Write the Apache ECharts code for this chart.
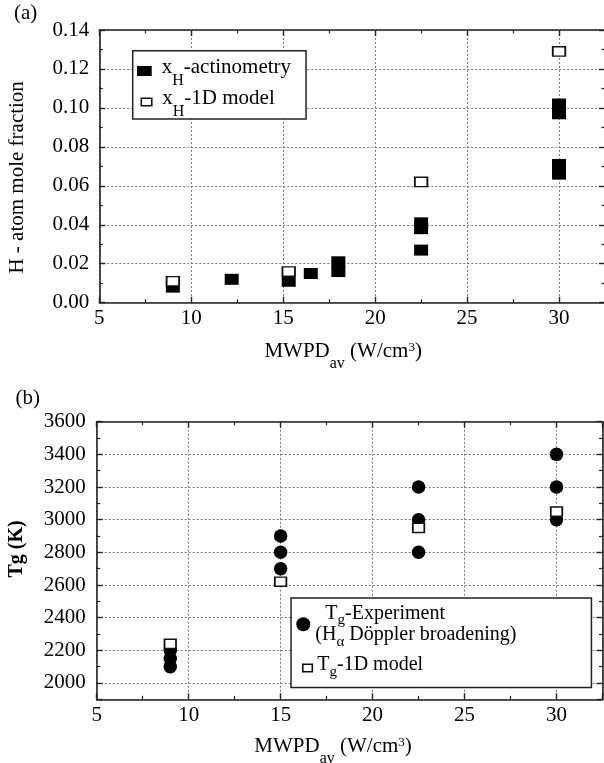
<!DOCTYPE html>
<html>
<head>
<meta charset="utf-8">
<script src="https://cdn.jsdelivr.net/npm/echarts@6/dist/echarts.min.js"></script>
<style>
  html, body { margin: 0; padding: 0; background: #fff; }
  #chart { width: 604px; height: 763px; }
</style>
</head>
<body>
<div id="chart"></div>
<script>
// Panel (a): H-atom mole fraction against average microwave power density
const mwpdActino = [9, 12.2, 15.3, 16.5, 18, 18, 22.5, 22.5, 22.5, 30, 30, 30, 30];
const xhActino   = [0.008, 0.012, 0.011, 0.015, 0.021, 0.016, 0.041, 0.038, 0.027, 0.102, 0.097, 0.071, 0.066];
const mwpdModelA = [9, 15.3, 22.5, 30];
const xhModel    = [0.011, 0.016, 0.062, 0.129];

// Panel (b): gas temperature against average microwave power density
const mwpdExp    = [9, 9, 9, 15, 15, 15, 22.5, 22.5, 22.5, 30, 30, 30];
const tgExp      = [2100, 2150, 2200, 2700, 2800, 2900, 2800, 3000, 3200, 3000, 3200, 3400];
const mwpdModelB = [9, 15, 22.5, 30];
const tgModel    = [2240, 2620, 2950, 3050];

// Tick labels
const xTickLabels  = [5, 10, 15, 20, 25, 30];
const yTickLabelsA = [0, 0.02, 0.04, 0.06, 0.08, 0.10, 0.12, 0.14];
const yTickLabelsB = [2000, 2200, 2400, 2600, 2800, 3000, 3200, 3400, 3600];

const F = '"Liberation Serif", "Times New Roman", serif';
const INK = '#222';

const zip = (xs, ys) => xs.map((x, i) => [x, ys[i]]);
const near = (list, v) => list.some(t => Math.abs(t - v) < 1e-9);

// Rich styles for the x-axis titles (subscript "av", superscript "3")
const xTitleRich = {
  n: { fontFamily: F, fontSize: 21, lineHeight: 24, color: '#000' },
  s: { fontFamily: F, fontSize: 16, lineHeight: 24, padding: [24, 0, 0, 0], color: '#000' },
  p: { fontFamily: F, fontSize: 13, lineHeight: 24, padding: [0, 0, 9, 0], color: '#000' }
};
const xTitle = '{n|MWPD}{s|av}{n| (W/cm}{p|3}{n|)}';

function frameAxis(base, extra) {
  return Object.assign({
    type: 'value',
    axisLine: { show: true, onZero: false, lineStyle: { color: INK, width: 1.6 } },
    axisTick: { show: true, inside: true, length: 6, lineStyle: { color: INK, width: 1.4 } },
    minorTick: { show: true, splitNumber: 2, length: 3.5, lineStyle: { color: INK, width: 1.2 } },
    axisLabel: { show: false },
    splitLine: { show: false },
    minorSplitLine: { show: false }
  }, base, extra || {});
}

const gridLine = { show: true, lineStyle: { color: '#7a7a7a', width: 1, type: [2, 2] } };
const tickFont = { fontFamily: F, fontSize: 21, color: '#000' };

const xScale = { min: 5, max: 32.5, interval: 5 };
const yScaleA = { min: 0, max: 0.14, interval: 0.02 };
const yScaleB = { min: 1900, max: 3600, splitNumber: 8 };

const legendLabels = {
  'xH-actinometry': '{a|x}{s|H}{n|-actinometry}',
  'xH-1D model': '{a|x}{s|H}{n|-1D model}',
  'Tg-Experiment': '{i|T}{s|g}{n|-Experiment}\n{n|(H}{s|α}{n| Döppler broadening)}',
  'Tg-1D model': '{n|T}{s|g}{n|-1D model}'
};

const richA = {
  a: { fontFamily: F, fontSize: 21, lineHeight: 24, padding: [0, 0, 7, 5], color: '#000' },
  n: { fontFamily: F, fontSize: 21, lineHeight: 24, padding: [0, 0, 7, 0], color: '#000' },
  s: { fontFamily: F, fontSize: 16, lineHeight: 24, padding: [20, 0, 0, 0], color: '#000' }
};
const richA2 = Object.assign({}, richA, {
  a: { fontFamily: F, fontSize: 21, lineHeight: 24, padding: [0, 0, 7, 5.5], color: '#000' }
});
const richB1 = {
  i: { fontFamily: F, fontSize: 20, lineHeight: 21.7, padding: [0, 0, 0, 10], color: '#000' },
  n: { fontFamily: F, fontSize: 20, lineHeight: 21.7, color: '#000' },
  s: { fontFamily: F, fontSize: 15, lineHeight: 21.7, padding: [14, 0, 0, 0], color: '#000' }
};
const richB2 = {
  n: { fontFamily: F, fontSize: 20, lineHeight: 21.7, padding: [0, 0, 5.5, 0], color: '#000' },
  s: { fontFamily: F, fontSize: 15, lineHeight: 21.7, padding: [8.5, 0, 0, 0], color: '#000' }
};

const filledStyle = { color: '#000', borderColor: '#000', borderWidth: 0, opacity: 1 };
const openStyle = { color: '#fff', borderColor: '#111', borderWidth: 1.6, opacity: 1 };

const option = {
  animation: false,
  backgroundColor: '#fff',
  textStyle: { fontFamily: F },
  title: [
    { text: '(a)', left: 14, top: 3, padding: 0, textStyle: { fontFamily: F, fontSize: 21, fontWeight: 'normal', color: '#000' } },
    { text: '(b)', left: 15.5, top: 388, padding: 0, textStyle: { fontFamily: F, fontSize: 21, fontWeight: 'normal', color: '#000' } }
  ],
  grid: [
    { left: 99.3, top: 30, right: -1, bottom: 460.3, containLabel: false, outerBoundsMode: 'none' },
    { left: 96.7, top: 421.7, right: 1.5, bottom: 63.7, containLabel: false, outerBoundsMode: 'none' }
  ],
  xAxis: [
    frameAxis(xScale, {
      gridIndex: 0, position: 'bottom',
      axisLabel: Object.assign({ show: true, margin: 5.5, formatter: v => near(xTickLabels, v) ? String(v) : '' }, tickFont),
      splitLine: gridLine,
      name: xTitle, nameLocation: 'middle', nameGap: 37,
      nameTextStyle: { rich: xTitleRich, padding: [0, 18, 0, 0] }
    }),
    frameAxis(xScale, { gridIndex: 0, position: 'top' }),
    frameAxis(xScale, {
      gridIndex: 1, position: 'bottom',
      axisLabel: Object.assign({ show: true, margin: 5.5, formatter: v => near(xTickLabels, v) ? String(v) : '' }, tickFont),
      splitLine: gridLine,
      name: xTitle, nameLocation: 'middle', nameGap: 35,
      nameTextStyle: { rich: xTitleRich, padding: [0, 33, 0, 0] }
    }),
    frameAxis(xScale, { gridIndex: 1, position: 'top' })
  ],
  yAxis: [
    frameAxis(yScaleA, {
      gridIndex: 0, position: 'left',
      axisLabel: Object.assign({ show: true, margin: 10, formatter: v => near(yTickLabelsA, v) ? v.toFixed(2) : '' }, tickFont),
      splitLine: gridLine,
      name: 'H - atom mole fraction', nameLocation: 'middle', nameGap: 71,
      nameTextStyle: { fontFamily: F, fontSize: 21, color: '#000', padding: [0, 22, 0, 0] }
    }),
    frameAxis(yScaleA, { gridIndex: 0, position: 'right' }),
    frameAxis(yScaleB, {
      gridIndex: 1, position: 'left',
      axisLabel: Object.assign({ show: true, margin: 11, formatter: v => near(yTickLabelsB, v) ? String(v) : '' }, tickFont),
      splitLine: gridLine,
      name: 'Tg (K)', nameLocation: 'middle', nameGap: 69.5,
      nameTextStyle: { fontFamily: F, fontSize: 20, fontWeight: 'bold', color: '#000', padding: [0, 0, 0, 23] }
    }),
    frameAxis(yScaleB, { gridIndex: 1, position: 'right' })
  ],
  legend: [
    {
      data: [{ name: 'xH-actinometry', icon: 'rect', itemStyle: filledStyle }],
      orient: 'vertical', left: 132.7, top: 50.7,
      padding: [2.3, 15, 30, 4.3],
      itemWidth: 14.7, itemHeight: 10,
      borderColor: INK, borderWidth: 1.5, backgroundColor: '#fff',
      selectedMode: false,
      formatter: name => legendLabels[name],
      textStyle: { rich: richA }
    },
    {
      data: [{ name: 'xH-1D model', icon: 'rect', itemStyle: openStyle }],
      orient: 'vertical', left: 140.5, top: 84, padding: 0,
      itemWidth: 10.5, itemHeight: 7.5,
      selectedMode: false,
      formatter: name => legendLabels[name],
      textStyle: { rich: richA2 }
    },
    {
      data: [{ name: 'Tg-Experiment', icon: 'circle', itemStyle: filledStyle }],
      orient: 'vertical', left: 291, top: 598,
      padding: [0.9, 75, 38, 5.3],
      itemWidth: 14, itemHeight: 14,
      borderColor: INK, borderWidth: 1.5, backgroundColor: '#fff',
      selectedMode: false,
      formatter: name => legendLabels[name],
      textStyle: { rich: richB1 }
    },
    {
      data: [{ name: 'Tg-1D model', icon: 'rect', itemStyle: openStyle }],
      orient: 'vertical', left: 302, top: 655.2, padding: 0,
      itemWidth: 9.5, itemHeight: 7.5,
      selectedMode: false,
      formatter: name => legendLabels[name],
      textStyle: { rich: richB2 }
    }
  ],
  series: [
    {
      name: 'xH-actinometry', type: 'scatter', xAxisIndex: 0, yAxisIndex: 0,
      symbol: 'rect', symbolSize: [14, 11], itemStyle: filledStyle,
      data: zip(mwpdActino, xhActino)
    },
    {
      name: 'xH-1D model', type: 'scatter', xAxisIndex: 0, yAxisIndex: 0,
      symbol: 'rect', symbolSize: [12.5, 9.3], itemStyle: openStyle,
      data: zip(mwpdModelA, xhModel)
    },
    {
      name: 'Tg-Experiment', type: 'scatter', xAxisIndex: 2, yAxisIndex: 2,
      symbol: 'circle', symbolSize: 13.5, itemStyle: filledStyle,
      data: zip(mwpdExp, tgExp)
    },
    {
      name: 'Tg-1D model', type: 'scatter', xAxisIndex: 2, yAxisIndex: 2,
      symbol: 'rect', symbolSize: [11.5, 9.2], itemStyle: openStyle,
      data: zip(mwpdModelB, tgModel)
    }
  ]
};

const chart = echarts.init(document.getElementById('chart'), null, { renderer: 'canvas' });
chart.setOption(option);
</script>
</body>
</html>
